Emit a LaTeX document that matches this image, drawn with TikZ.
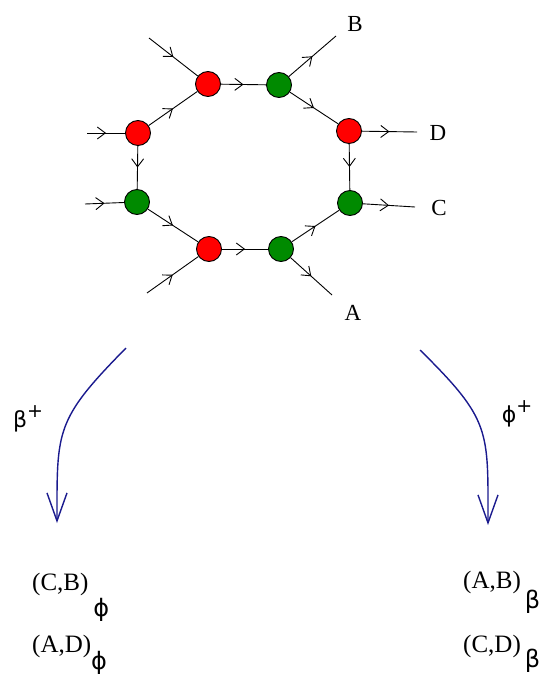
\documentclass[tikz,border=0pt]{standalone}
\usepackage{fontspec}
\setmainfont{Liberation Serif}
\newfontfamily\gkfont{DejaVu Sans}
\usepackage{tikz}
\usetikzlibrary{
  arrows.meta,
  decorations.markings,
  positioning
}
\definecolor{vxRed}{HTML}{FF0000}
\definecolor{vxGreen}{HTML}{008A00}
\definecolor{vxBlue}{HTML}{1A1A8E}
\newcommand{\gkplus}[1]{{\gkfont #1\raisebox{10pt}{\fontsize{19}{19}\selectfont +}}}
\newcommand{\pairlbl}[3]{#1\raisebox{#3}{\fontsize{24}{24}\selectfont\gkfont #2}}

\begin{document}
\begin{tikzpicture}[x=1pt, y=-1pt,
  vertex/.style={circle, draw=black, line width=0.9pt, minimum size=25pt, inner sep=0pt},
  flow/.style={line width=0.9pt, postaction={decorate},
    decoration={markings, mark=at position 0.5 with {\arrow{Straight Barb[length=8pt,width=12pt,line width=0.9pt]}}}},
  mapcurve/.style={vxBlue, line width=1.4pt, -{Straight Barb[length=28pt,width=20pt,line width=1.4pt]}},
  lbl/.style={font=\fontsize{23}{23}\selectfont, inner sep=0pt},
  pair/.style={font=\fontsize{25}{25}\selectfont, inner sep=0pt, anchor=base west},
  gk/.style={font=\fontsize{22}{22}\selectfont\gkfont, inner sep=0pt}]
  \useasboundingbox (0,0) rectangle (550,679);
  % ring of vertices
  \foreach \name/\pos/\col in {
    vTL/{208,84}/vxRed, vTR/{279,85}/vxGreen,
    vRa/{349,131}/vxRed, vRb/{350,203}/vxGreen,
    vBR/{281,249}/vxGreen, vBL/{209,249}/vxRed,
    vLb/{137,202}/vxGreen, vLa/{138,133}/vxRed}{
    \node[vertex, fill=\col] (\name) at (\pos) {};
  }
  % loose ends
  \coordinate (inTL) at (149,38);
  \coordinate (inBL) at (147,293);
  \coordinate (inLa) at (87,133);
  \coordinate (inLb) at (85,204);
  \coordinate (outB) at (336,36);
  \coordinate (outD) at (417,132);
  \coordinate (outC) at (415,207);
  \coordinate (outA) at (332,295);
  \foreach \a/\b in {vLa/vTL, vTL/vTR, vTR/vRa, vRa/vRb, vLa/vLb, vLb/vBL,
    vBL/vBR, vBR/vRb, inTL/vTL, inBL/vBL, inLa/vLa, inLb/vLb,
    vTR/outB, vRa/outD, vRb/outC, vBR/outA}{
    \draw[flow] (\a) -- (\b);
  }
  \node[lbl] (labB) at (355,24) {B};
  \node[lbl] (labD) at (438,133) {D};
  \node[lbl] (labC) at (439,208) {C};
  \node[lbl] (labA) at (353,313) {A};
  % the two maps
  \coordinate (leftTop) at (126,348);
  \coordinate (leftTip) at (57,523);
  \coordinate (rightTop) at (420,350);
  \coordinate (rightTip) at (488,525);
  \draw[mapcurve] (leftTop) .. controls (55,420) and (57,430) .. (leftTip);
  \draw[mapcurve] (rightTop) .. controls (491,420) and (488,430) .. (rightTip);
  \node[gk] (mapBeta) at (28,419) {\gkplus{β}};
  \node[gk] (mapPhi) at (517,414) {\gkplus{ϕ}};
  % resulting pairs
  \node[pair] (pairCB) at (32,590) {\pairlbl{(C,B)\kern5pt}{ϕ}{-26pt}};
  \node[pair] (pairAD) at (32,652) {\pairlbl{(A,D)}{ϕ}{-17pt}};
  \node[pair] (pairAB) at (463,588) {\pairlbl{(A,B)\kern4pt}{β}{-20pt}};
  \node[pair] (pairCD) at (463,652) {\pairlbl{(C,D)\kern4pt}{β}{-15pt}};
\end{tikzpicture}
\end{document}
